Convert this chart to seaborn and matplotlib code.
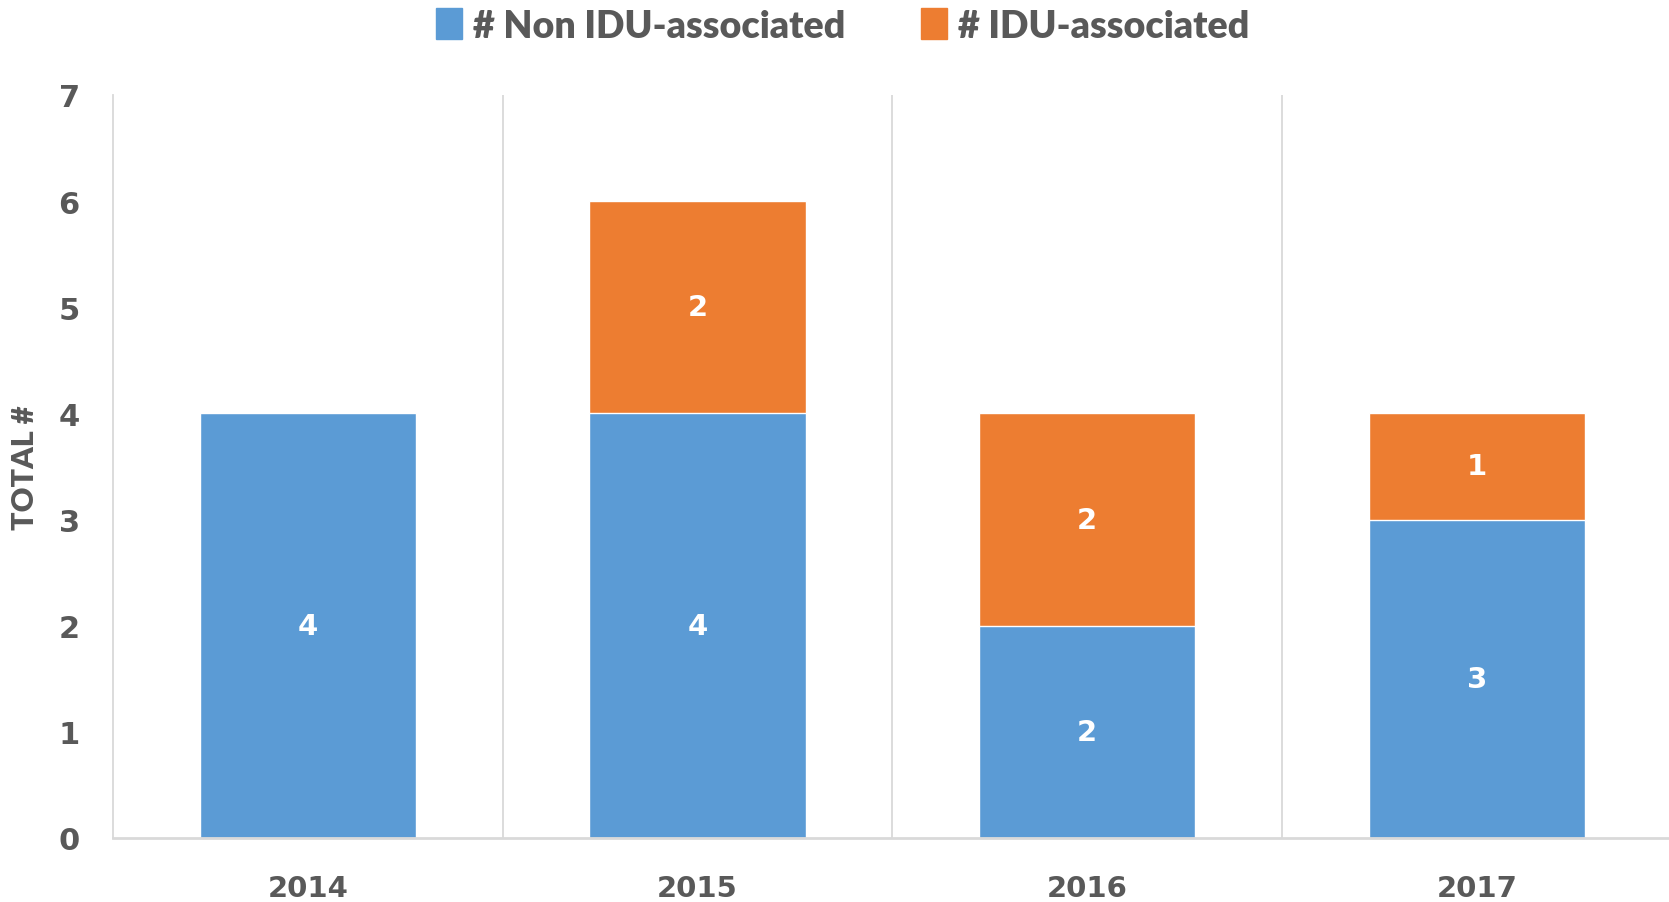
import pandas as pd
import matplotlib.pyplot as plt
import seaborn as sns
from matplotlib.patches import Patch

# data
years = ["2014", "2015", "2016", "2017"]
non_idu = [4, 4, 2, 3]
idu = [0, 2, 2, 1]

blue = "#5B9BD5"
orange = "#ED7D31"
grey_txt = "#595959"
grey_line = "#D9D9D9"

df = pd.DataFrame({"year": years, "non_idu": non_idu, "idu": idu})
df["total"] = df["non_idu"] + df["idu"]

sns.set_style("white")
plt.rcParams["font.family"] = ["Lato", "DejaVu Sans"]
num_font = ["DejaVu Sans"]

fig = plt.figure(figsize=(16.69, 9.03), dpi=100)
ax = fig.add_axes([0.0677, 0.0709, 0.934, 0.8228])

# totals in orange, non-IDU over them in blue
sns.barplot(data=df, x="year", y="total", color=orange, saturation=1,
            width=0.555, ax=ax)
sns.barplot(data=df, x="year", y="non_idu", color=blue, saturation=1,
            width=0.555, ax=ax)

# labels inside segments
for i, row in df.iterrows():
    if row["non_idu"] > 0:
        ax.text(i, row["non_idu"] / 2, str(row["non_idu"]), ha="center", va="center",
                color="white", fontsize=21, fontweight="bold", family=num_font)
    if row["idu"] > 0:
        ax.text(i, row["non_idu"] + row["idu"] / 2, str(row["idu"]), ha="center",
                va="center", color="white", fontsize=21, fontweight="bold", family=num_font)

ax.set_xlim(-0.5, 3.5)
ax.set_ylim(0, 7)
ax.set_yticks(range(0, 8))
for xv in [0.5, 1.5, 2.5]:
    ax.axvline(xv, color=grey_line, lw=1.3, zorder=0)

for s in ["top", "right"]:
    ax.spines[s].set_visible(False)
ax.spines["left"].set_color(grey_line)
ax.spines["bottom"].set_color(grey_line)
ax.spines["left"].set_linewidth(1.3)
ax.spines["bottom"].set_linewidth(2)

ax.tick_params(axis="y", length=10, color=grey_line, width=1.3, pad=14,
               labelsize=22, labelcolor=grey_txt)
ax.tick_params(axis="x", length=0, pad=26, labelsize=21, labelcolor=grey_txt)
for lab in ax.get_xticklabels() + ax.get_yticklabels():
    lab.set_fontweight("bold")
    lab.set_family(num_font)

ax.set_xlabel("")
ax.set_ylabel("TOTAL #", fontsize=22, fontweight="heavy", color=grey_txt, labelpad=14)

handles = [Patch(color=blue), Patch(color=orange)]
fig.legend(handles, ["# Non IDU-associated", "# IDU-associated"], loc="upper center",
           bbox_to_anchor=(0.505, 1.027), ncol=2, frameon=False,
           prop={"weight": "heavy", "size": 27}, labelcolor=grey_txt,
           handlelength=0.7, handleheight=0.9, handletextpad=0.3, columnspacing=2.0)

plt.savefig("out.png", dpi=100)
plt.close()
